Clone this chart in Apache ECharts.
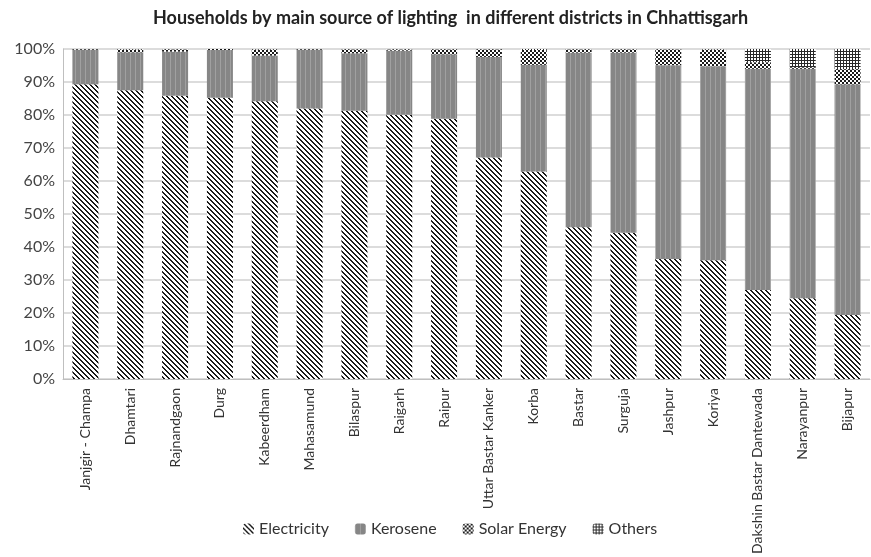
<!DOCTYPE html>
<html>
<head>
<meta charset="utf-8">
<script src="https://cdn.jsdelivr.net/npm/echarts@6/dist/echarts.min.js"></script>
<style>
html,body{margin:0;padding:0;background:#fff;}
#chart{width:871px;height:557px;}
</style>
</head>
<body>
<div id="chart"></div>
<script>
const categories = ['Janjgir - Champa','Dhamtari','Rajnandgaon','Durg','Kabeerdham','Mahasamund','Bilaspur','Raigarh','Raipur','Uttar Bastar Kanker','Korba','Bastar','Surguja','Jashpur','Koriya','Dakshin Bastar Dantewada','Narayanpur','Bijapur'];
const electricity = [89.3, 87.5, 85.8, 85.2, 84.2, 82.0, 81.3, 80.1, 78.9, 67.1, 62.9, 46.0, 44.3, 36.4, 36.0, 27.0, 24.5, 19.4];
const kerosene    = [10.5, 11.5, 13.4, 14.5, 13.8, 17.8, 17.4, 19.4, 19.5, 30.5, 32.3, 52.9, 54.6, 58.7, 58.8, 67.0, 69.5, 69.9];
const solar       = [0.2, 0.8, 0.7, 0.3, 1.8, 0.2, 1.2, 0.4, 1.5, 2.3, 4.5, 1.0, 1.0, 4.8, 5.0, 2.0, 0.5, 4.6];
const others      = [0.0, 0.2, 0.1, 0.0, 0.2, 0.0, 0.1, 0.1, 0.1, 0.1, 0.3, 0.1, 0.1, 0.1, 0.2, 4.0, 5.5, 6.1];
const yTicks = [0,10,20,30,40,50,60,70,80,90,100];

function makePattern(size, fn) {
  const c = document.createElement('canvas');
  c.width = size; c.height = size;
  const ctx = c.getContext('2d');
  const img = ctx.createImageData(size, size);
  for (let y = 0; y < size; y++) {
    for (let x = 0; x < size; x++) {
      const col = fn(x, y);
      const i = (y * size + x) * 4;
      img.data[i] = col[0]; img.data[i+1] = col[1]; img.data[i+2] = col[2]; img.data[i+3] = 255;
    }
  }
  ctx.putImageData(img, 0, 0);
  return c;
}
const BLACK = [26,26,26], WHITE = [255,255,255];
const elecPat = makePattern(5, (x, y) => (((x - y) % 5 + 5) % 5 < 2 ? BLACK : WHITE));
const kerPat = makePattern(5, (x, y) => (x === 0 ? [160,160,160] : [134,134,134]));
const solarPat = makePattern(4, (x, y) => (((x < 2) === (y < 2)) ? BLACK : WHITE));
const othPat = makePattern(3, (x, y) => ((x === 0 || y === 0) ? [40,40,40] : WHITE));

const FONT = 'Lato, "Open Sans", sans-serif';
const chart = echarts.init(document.getElementById('chart'));
function mk(name, data, pat) {
  return {
    name: name, type: 'bar', stack: 'total', data: data,
    barCategoryGap: '42%',
    itemStyle: { color: { image: pat, repeat: 'repeat' } },
    emphasis: { disabled: true }
  };
}
chart.setOption({
  animation: false,
  backgroundColor: '#fff',
  title: {
    text: 'Households by main source of lighting  in different districts in Chhattisgarh',
    left: 148, top: 4,
    textStyle: { fontFamily: FONT, fontSize: 18, fontWeight: 'bold', color: '#222' }
  },
  legend: {
    bottom: 15, left: 238,
    itemWidth: 11, itemHeight: 11, itemGap: 26,
    textStyle: { fontFamily: FONT, fontSize: 16, color: '#333' },
    data: ['Electricity','Kerosene','Solar Energy','Others']
  },
  grid: { left: 63, right: 1, top: 49, bottom: 178 },
  xAxis: {
    type: 'category', data: categories,
    axisLine: { lineStyle: { color: '#bfbfbf' } },
    axisTick: { show: false },
    axisLabel: { rotate: 90, interval: 0, margin: 9, fontFamily: FONT, fontSize: 14, color: '#333' }
  },
  yAxis: {
    type: 'value', min: 0, max: 100, interval: 10,
    axisLine: { show: true, lineStyle: { color: '#bfbfbf' } },
    axisTick: { show: false },
    splitLine: { lineStyle: { color: '#d0d0d0', width: 1.5 } },
    axisLabel: { fontFamily: FONT, fontSize: 16, color: '#444', margin: 8,
      formatter: v => (yTicks.indexOf(v) >= 0 ? v + '%' : '') }
  },
  series: [
    mk('Electricity', electricity, elecPat),
    mk('Kerosene', kerosene, kerPat),
    mk('Solar Energy', solar, solarPat),
    mk('Others', others, othPat)
  ]
});
</script>
</body>
</html>
